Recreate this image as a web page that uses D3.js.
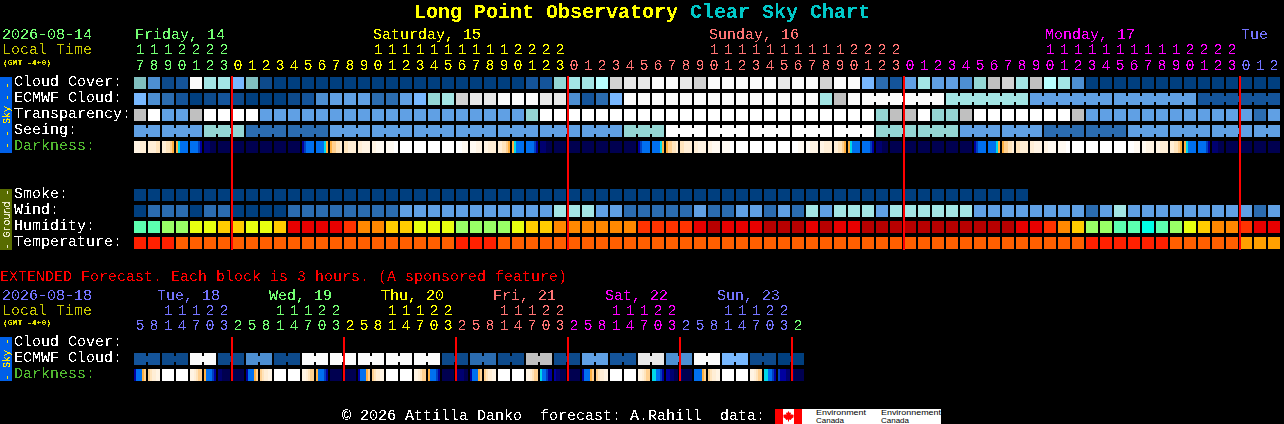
<!DOCTYPE html>
<html><head><meta charset="utf-8">
<script src="https://cdn.jsdelivr.net/npm/d3@7/dist/d3.min.js"></script>
<style>html,body{margin:0;padding:0;background:#000;overflow:hidden}svg{display:block}
text{font-family:"Liberation Mono",monospace;font-size:15px;white-space:pre}</style>
</head><body><svg id="chart" width="1284" height="424"></svg>
<script>
// ---------- data ----------
const skyLabels = ["Cloud Cover:","ECMWF Cloud:","Transparency:","Seeing:","Darkness:"];
const groundLabels = ["Smoke:","Wind:","Humidity:","Temperature:"];
const extLabels = ["Cloud Cover:","ECMWF Cloud:","Darkness:"];

const mainHours = [17,18,19,20,21,22,23,
 0,1,2,3,4,5,6,7,8,9,10,11,12,13,14,15,16,17,18,19,20,21,22,23,
 0,1,2,3,4,5,6,7,8,9,10,11,12,13,14,15,16,17,18,19,20,21,22,23,
 0,1,2,3,4,5,6,7,8,9,10,11,12,13,14,15,16,17,18,19,20,21,22,23,
 0,1,2];
const mainDayNames = ["Friday, 14","Saturday, 15","Sunday, 16","Monday, 17","Tue"];
const mainDayLabelCols = [0,17,41,65,79];
const mainDayStarts = [0,7,31,55,79];
const mainDayColors = ["#74ff74","#ffff00","#ff7474","#ff00ff","#7474ff"];
const mainMidnights = [7,31,55,79];

const extHours = [5,8,11,14,17,20,23,
 2,5,8,11,14,17,20,23, 2,5,8,11,14,17,20,23, 2,5,8,11,14,17,20,23,
 2,5,8,11,14,17,20,23, 2,5,8,11,14,17,20,23, 2];
const extDayNames = ["Tue, 18","Wed, 19","Thu, 20","Fri, 21","Sat, 22","Sun, 23"];
const extDayLabelCols = [2,10,18,26,34,42];
const extDayStarts = [0,7,15,23,31,39,47];
const extDayColors = ["#7474ff","#74ff74","#ffff00","#ff7474","#ff00ff","#7474ff","#74ff74"];
const extMidnights = [7,15,23,31,39,47];

const cloudCover = [7,4,1,2,14,9,9,6,7,1,0,0,0,0,0,0,0,0,0,0,0,0,0,0,0,0,0,0,2,2,8,9,9,10,12,13,13,14,14,13,12,14,14,14,14,14,13,14,14,12,14,14,6,3,2,5,9,5,5,4,8,11,12,9,11,10,9,4,0,0,0,0,0,0,0,0,0,0,0,0,0,0];
const ecmwfCloud = [6,4,3,2,0,1,2,1,0,0,0,1,2,4,5,5,5,3,3,5,6,8,9,12,13,13,14,14,14,13,13,4,2,3,6,14,14,14,14,14,14,14,14,14,14,14,14,14,14,9,11,14,14,14,14,14,14,14,9,9,9,9,9,9,5,5,5,5,5,5,5,5,5,5,5,5,2,2,2,2,2,2];
const ecmwfRuns = [1,1,1,1,1,1,1,1,1,1,1,1,1,1,1,1,1,1,1,1,1,1,1,1,1,1,1,1,1,1,1,1,1,1,1,1,1,1,1,1,1,1,1,1,1,1,1,1,1,1,1,1,6,6,6,6,6];
const transparency = [11,15,5,5,11,15,15,15,15,5,5,5,5,5,5,5,5,5,5,5,5,5,5,5,5,5,5,5,8,15,15,15,15,15,15,15,15,15,15,15,15,15,15,15,15,15,15,15,15,15,15,15,15,8,11,11,15,8,8,11,15,15,15,15,15,15,15,11,5,5,5,5,5,5,5,5,5,5,5,5,3,5];
const seeing = [5,5,5,5,5,8,8,8,3,3,3,3,3,3,5,5,5,5,5,5,5,5,5,5,5,5,5,5,5,5,5,5,5,5,5,8,8,8,15,15,15,15,15,15,15,15,15,15,15,15,15,15,15,8,8,8,8,8,8,5,5,5,5,5,5,3,3,3,3,3,3,5,5,5,5,5,5,5,5,5,5,5];
const seeingRuns = [2,3,3,3,3,3,3,3,3,3,3,3,3,3,3,3,3,3,3,3,3,3,3,3,3,3,3,2];
const smoke = [0,0,0,0,0,0,0,0,0,0,0,0,0,0,0,0,0,0,0,0,0,0,0,0,0,0,0,0,0,0,0,0,0,0,0,0,0,0,0,0,0,0,0,0,0,0,0,0,0,0,0,0,0,0,0,0,0,0,0,0,0,0,0,0];
const wind = [0,3,3,3,0,3,3,0,0,0,0,3,3,3,3,3,3,3,3,5,5,5,5,5,5,5,5,5,5,5,9,9,9,5,5,3,3,3,3,3,5,3,3,5,5,3,5,3,9,5,9,9,9,5,9,9,9,9,9,9,5,5,5,5,5,5,5,5,3,5,9,5,5,5,5,5,5,5,5,5,3,5];
const humidity = [1,1,2,2,3,3,4,4,3,3,4,7,7,7,7,6,5,5,4,4,3,3,3,2,2,2,2,3,4,4,5,5,5,5,5,5,6,6,6,6,7,8,7,7,7,8,8,8,7,8,7,7,8,8,8,8,8,8,8,8,8,8,8,7,7,6,5,4,2,2,1,1,0,1,2,3,4,5,5,6,7,7];
const temperature = [0,0,0,1,1,1,1,1,1,1,1,1,1,1,1,1,1,1,1,1,1,1,1,0,0,0,1,1,1,1,1,1,1,1,1,1,1,1,1,1,1,1,1,1,1,1,1,1,1,1,1,1,1,1,1,1,1,1,1,1,1,1,1,1,1,1,1,1,0,0,0,0,0,0,1,1,1,1,1,2,2,2];
// darkness: six readings across each block
const darkness = ["222333","333344","334456","678888","88889a","bbbccc","cccccc","cccccc","cccccc","cccccc","cccccc","cccccc","a98888","888876","655443","443333","332222","221111","111100","000000","000000","000000","000000","000111","111222","223333","334456","678888","88889a","bbbccc","cccccc","cccccc","cccccc","cccccc","cccccc","cccccc","a98888","888876","655443","443333","332222","221111","111100","000000","000000","000000","000000","000111","112222","223333","334456","678888","88889a","bbbccc","cccccc","cccccc","cccccc","cccccc","cccccc","cccccc","a98888","888876","655443","443333","332222","221111","111100","000000","000000","000000","000000","000111","112222","223333","334456","678888","88889a","bbbccc","cccccc","cccccc","cccccc","cccccc"];

const extEcmwf = [2,1,14,1,4,1,14,14,14,14,14,1,3,1,11,1,5,2,13,4,14,6,1,0];
const extEcmwfRuns = [2,2,2,2,2,2,2,2,2,2,2,2,2,2,2,2,2,2,2,2,2,2,2,2];
const extDarkness = ["a88865","543322","000000","000000","223455","68889a","bbcccc","cccccc","a88865","543322","000000","000000","223455","68889a","cccccc","cccccc","a88865","543322","000000","000000","223455","68889a","cccccc","bbbbcc","a88865","543322","000000","000000","223455","7889aa","abbccc","cccccc","a88865","543322","000000","000000","223455","77889a","aabbcc","bccccc","888865","543322","000000","000000","223455","77889a","9aaabb","bccccc"];

const levelKeys = d3.range(16);
const levelColors = ["#003f7f","#0d4a8b","#14549a","#2b6cb0","#4d8fd2","#60a0e4","#78b8ff","#80bfbf","#94d6d4","#a3e5e5","#b8ffff","#c0c0c0","#d2d2d2","#e8e8e8","#fbfbfb","#ffffff"];
const humidKeys = d3.range(9);
const humidColors = ["#00ffe6","#5cffb0","#99ff66","#e8ff10","#ffcc00","#ff8800","#ff3300","#e80000","#b80000"];
const tempKeys = [0,1,2];
const tempColors = ["#ff2000","#ff5f00","#ffa000"];
const darkKeys = "0123456789abc".split("");
const darkColors = ["#ffffff","#fffaf2","#fff4e4","#ffeed6","#ffe4bc","#ffd090","#ffb040","#00d8e8","#0070f0","#0040c0","#0000a0","#000070","#000050"];

const titleA = "Long Point Observatory ", titleB = "Clear Sky Chart";
const extNote = "EXTENDED Forecast. Each block is 3 hours. (A sponsored feature)";
const footer = "© 2026 Attilla Danko  forecast: A.Rahill  data:";
const logoLines = [[816,"Environment",50,"Canada",28],[881,"Environnement",60,"Canada",28]];

// ---------- drawing ----------
const svg = d3.select("#chart");
const defs = svg.append("defs");
const f = defs.append("filter").attr("id","crisp").attr("filterUnits","userSpaceOnUse")
  .attr("x",0).attr("y",0).attr("width",1284).attr("height",424)
  .attr("color-interpolation-filters","sRGB");
f.append("feComponentTransfer").append("feFuncA").attr("type","discrete").attr("tableValues","0 1");

const gMarks = svg.append("g");
const gText = svg.append("g").attr("filter","url(#crisp)");

function T(x,y,s,fill,o={}){
  const t = gText.append("text").attr("x",x).attr("y",y).attr("fill",fill).text(s);
  if(o.size) t.style("font-size",o.size+"px");
  if(o.bold) t.style("font-weight","bold");
  if(o.anchor) t.attr("text-anchor",o.anchor);
  if(o.family) t.style("font-family",o.family);
  if(o.rotate) t.attr("transform",`rotate(${o.rotate} ${x} ${y})`);
  return t;
}
const band = (n,x0)=>d3.scaleBand().domain(d3.range(n)).range([x0,x0+14*n-2]).paddingInner(2/14).paddingOuter(0);
const rows = (names,y0)=>d3.scaleBand().domain(names).range([y0,y0+16*names.length-4]).paddingInner(4/16).paddingOuter(0);
const level = d3.scaleOrdinal(levelKeys,levelColors);
const humid = d3.scaleOrdinal(humidKeys,humidColors);
const temp = d3.scaleOrdinal(tempKeys,tempColors);
const dark = d3.scaleOrdinal(darkKeys,darkColors);

function blocks(x,y,name,values,colour,runs){
  const g = gMarks.append("g");
  const b = x.bandwidth(), h = y.bandwidth();
  g.selectAll("rect.c").data(values).join("rect").attr("class","c")
    .attr("x",(d,i)=>x(i)).attr("y",y(name)).attr("width",b).attr("height",h).attr("fill",d=>colour(d));
  if(runs){
    const joins=[]; let p=0;
    runs.forEach(r=>{ for(let k=0;k<r-1;k++) joins.push(p+k); p+=r; });
    g.selectAll("rect.j").data(joins).join("rect").attr("class","j")
      .attr("x",i=>x(i)+b).attr("y",y(name)+3).attr("width",x.step()-b).attr("height",h-6)
      .attr("fill",i=>colour(values[i]));
  }
}
function darkRow(x,y,name,values){
  const g = gMarks.append("g");
  const b = x.bandwidth();
  const sub = d3.scaleBand().domain(d3.range(6)).range([0,b]);
  const cell = g.selectAll("g").data(values).join("g").attr("transform",(d,i)=>`translate(${x(i)},${y(name)})`);
  cell.selectAll("rect").data(d=>d.split("")).join("rect")
    .attr("x",(d,i)=>sub(i)).attr("width",sub.bandwidth()).attr("height",y.bandwidth()).attr("fill",d=>dark(d));
}
function redLines(x,cols,y0,y1){
  gMarks.append("g").selectAll("rect").data(cols).join("rect")
    .attr("x",c=>x(c)-1).attr("y",y0).attr("width",2).attr("height",y1-y0).attr("fill","#ff0000");
}
function hourLabels(x,hours,starts,colors,yT,yU){
  const cx = i=>x(i)+x.bandwidth()/2;
  const col = i=>colors[d3.bisectRight(starts,i)-1];
  hours.forEach((h,i)=>{
    T(cx(i),yU,String(h%10),col(i),{anchor:"middle"});
    if(h>=10) T(cx(i),yT,String(Math.floor(h/10)),col(i),{anchor:"middle"});
  });
}

// title
const title = T(414,18,titleA,"#ffff00",{size:20,bold:true});
title.append("tspan").attr("fill","#00c8c8").text(titleB);

// main chart
const xM = band(82,134);
const ySky = rows(skyLabels,77), yGround = rows(groundLabels,189);
T(2,39,"2026-08-14","#74ff74");
T(2,54,"Local Time","#c8c800");
T(3,64.5,"(GMT -4+0)","#e0e000",{size:8,bold:true});
mainDayNames.forEach((n,i)=>T(xM(mainDayLabelCols[i])+1,39,n,mainDayColors[i]));
hourLabels(xM,mainHours,mainDayStarts,mainDayColors,54,70);

blocks(xM,ySky,skyLabels[0],cloudCover,level);
blocks(xM,ySky,skyLabels[1],ecmwfCloud,level,ecmwfRuns);
blocks(xM,ySky,skyLabels[2],transparency,level);
blocks(xM,ySky,skyLabels[3],seeing,level,seeingRuns);
darkRow(xM,ySky,skyLabels[4],darkness);
blocks(xM,yGround,groundLabels[0],smoke,level);
blocks(xM,yGround,groundLabels[1],wind,level);
blocks(xM,yGround,groundLabels[2],humidity,humid);
blocks(xM,yGround,groundLabels[3],temperature,temp);
redLines(xM,mainMidnights,76,250);

skyLabels.forEach(l=>T(14,ySky(l)+9,l,l==="Darkness:"?"#50b830":"#ffffff"));
groundLabels.forEach(l=>T(14,yGround(l)+9,l,"#ffffff"));

// side strips
function strip(y0,y1,fill,label,textFill){
  gMarks.append("rect").attr("x",0).attr("y",y0).attr("width",12).attr("height",y1-y0).attr("fill",fill);
  T(10,(y0+y1)/2,label,textFill,{size:10,anchor:"middle",rotate:-90});
}
strip(77,153,"#0060e8","- - Sky - -","#ffe800");
strip(189,250,"#586c00","- Ground -","#e8e8c8");
strip(337,381,"#0060e8","- Sky -","#ffe800");

// extended forecast
T(0,281,extNote,"#ff0000");
const xE = band(48,134);
const yE = rows(extLabels,337);
T(2,299.5,"2026-08-18","#7474ff");
T(2,314.5,"Local Time","#c8c800");
T(3,325,"(GMT -4+0)","#e0e000",{size:8,bold:true});
extDayNames.forEach((n,i)=>T(xE(extDayLabelCols[i])-5,299.5,n,extDayColors[i]));
hourLabels(xE,extHours,extDayStarts,extDayColors,314.5,330);
blocks(xE,yE,extLabels[1],extEcmwf.flatMap((v,i)=>Array(extEcmwfRuns[i]).fill(v)),level,extEcmwfRuns);
darkRow(xE,yE,extLabels[2],extDarkness);
redLines(xE,extMidnights,337,381);
extLabels.forEach(l=>T(14,yE(l)+9,l,l==="Darkness:"?"#50b830":"#ffffff"));

// footer + credit logo
T(342,420,footer,"#ffffff");
const logo = gMarks.append("g");
logo.append("rect").attr("x",775).attr("y",409).attr("width",166).attr("height",15).attr("fill","#fff");
logo.append("rect").attr("x",775).attr("y",409).attr("width",8).attr("height",15).attr("fill","#f00");
logo.append("rect").attr("x",794).attr("y",409).attr("width",8).attr("height",15).attr("fill","#f00");
logo.append("path").attr("fill","#f00").attr("d","M788.5 411l1.2 2 1.3-.6-.4 2.6 1.6-.9.4 1 1.2-.3-.5 1.6.6.5-2.7 2-.2 1-2-.3v2h-1v-2l-2 .3-.2-1-2.7-2 .6-.5-.5-1.6 1.2.3.4-1 1.6.9-.4-2.6 1.3.6z");
const sans = '"Liberation Sans",sans-serif';
logoLines.forEach(([x,a,wa,b,wb])=>{
  gMarks.append("text").attr("x",x).attr("y",415.2).attr("fill","#000").style("font-family",sans).style("font-size","7px")
    .attr("textLength",wa).attr("lengthAdjust","spacingAndGlyphs").text(a);
  gMarks.append("text").attr("x",x).attr("y",423).attr("fill","#000").style("font-family",sans).style("font-size","7px")
    .attr("textLength",wb).attr("lengthAdjust","spacingAndGlyphs").text(b);
});
</script></body></html>
